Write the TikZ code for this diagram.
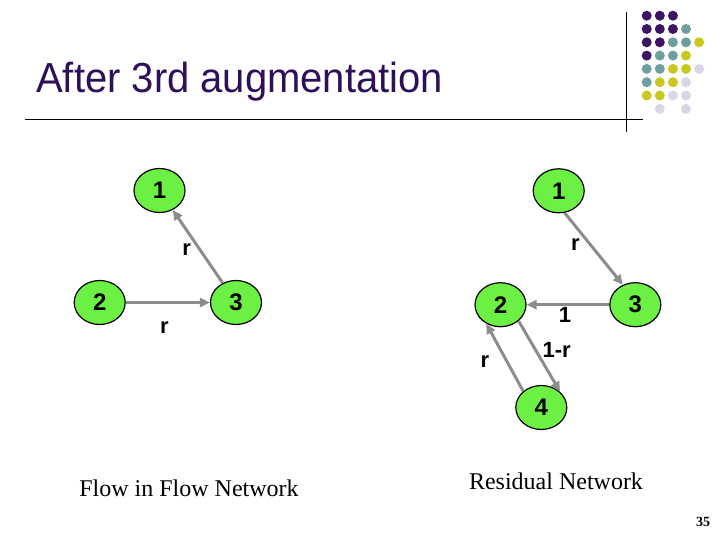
\documentclass[tikz,border=0pt]{standalone}
\usepackage{fontspec}
\setmainfont{Liberation Serif}
\newfontfamily\arialf{Liberation Sans}
\usetikzlibrary{shapes.geometric,arrows.meta}
\definecolor{titlec}{RGB}{45,15,90}
\definecolor{dpurple}{RGB}{60,20,100}
\definecolor{dteal}{RGB}{110,158,158}
\definecolor{dyellow}{RGB}{200,200,30}
\definecolor{dlav}{RGB}{215,215,232}
\definecolor{nodegreen}{RGB}{108,240,68}
\definecolor{edgegray}{RGB}{140,140,140}
\tikzset{
  vnode/.style={ellipse,draw=black,line width=1.2pt,fill=nodegreen,minimum width=51pt,minimum height=44pt,inner sep=0pt,font=\arialf\bfseries\fontsize{24}{28}\selectfont},
  elabel/.style={inner sep=0pt,font=\arialf\bfseries\fontsize{22}{26}\selectfont},
  flowedge/.style={draw=edgegray,line width=3pt,-{Triangle[length=10pt,width=9pt]}},
  caption/.style={inner sep=0pt,font=\fontsize{24}{28}\selectfont},
  dot/.style={circle,inner sep=0pt,minimum size=10pt}
}
\begin{document}
\begin{tikzpicture}[x=1pt,y=-1pt]
\useasboundingbox (0,0) rectangle (720,540);
% title decorations
\draw[line width=0.8pt] (25,119.5) -- (643,119.5);
\draw[line width=0.8pt] (626.7,12) -- (626.7,132);
\node[anchor=base west,inner sep=0pt,text=titlec,font=\arialf\fontsize{40}{48}\selectfont] (title) at (36,93) {\scalebox{1}[1.05]{After 3rd augmentation}};
% dot grid
\foreach \c/\r/\col in {0/0/dpurple,1/0/dpurple,2/0/dpurple,
  0/1/dpurple,1/1/dpurple,2/1/dpurple,3/1/dteal,
  0/2/dpurple,1/2/dpurple,2/2/dteal,3/2/dteal,4/2/dyellow,
  0/3/dpurple,1/3/dteal,2/3/dteal,3/3/dyellow,
  0/4/dteal,1/4/dteal,2/4/dyellow,3/4/dyellow,4/4/dlav,
  0/5/dteal,1/5/dyellow,2/5/dyellow,3/5/dlav,
  0/6/dyellow,1/6/dyellow,2/6/dlav,3/6/dlav,
  1/7/dlav,3/7/dlav}
  \node[dot,fill=\col] (d\c\r) at (646.7+13.1*\c,15.7+13.3*\r) {};
% left graph
\node[vnode] (a1) at (159.5,190.5) {1};
\node[vnode] (a2) at (99.7,302.5) {2};
\node[vnode] (a3) at (236,302.5) {3};
\draw[flowedge] (a2) -- (a3);
\draw[flowedge] (a3) -- (a1);
\node[elabel] (la31) at (186.7,250) {r};
\node[elabel] (la23) at (164.3,328) {r};
% right graph
\node[vnode] (b1) at (558.7,190.8) {1};
\node[vnode] (b2) at (500.5,304.7) {2};
\node[vnode] (b3) at (635.3,304.7) {3};
\node[vnode] (b4) at (541.3,407.5) {4};
\draw[flowedge] (b1.-75) -- (b3.122);
\draw[flowedge] (b3) -- (b2);
\draw[flowedge] (b2.-42) -- (b4.40);
\draw[flowedge] (b4.138) -- (b2.-127);
\node[elabel] (lb13) at (575.5,245) {r};
\node[elabel] (lb32) at (565,315) {1};
\node[elabel] (lb24) at (556.7,350) {1-r};
\node[elabel] (lb42) at (485,362) {r};
% captions
\node[caption] (cap1) at (189,488) {Flow in Flow Network};
\node[caption] (cap2) at (556,481) {Residual Network};
\node[inner sep=0pt,font=\bfseries\fontsize{14}{16}\selectfont] (pg) at (703,522) {35};
\end{tikzpicture}
\end{document}
